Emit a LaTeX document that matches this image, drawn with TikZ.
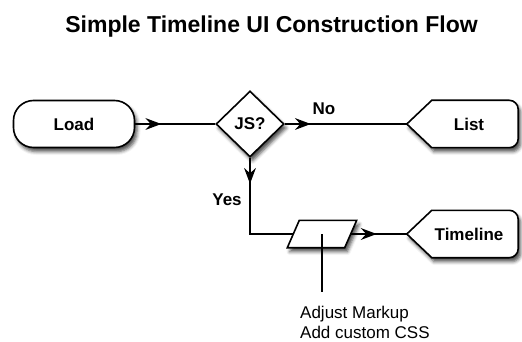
\documentclass[tikz,border=0pt]{standalone}
\usepackage{fontspec}
\setmainfont{Liberation Sans}
\usetikzlibrary{shapes.geometric,shadows.blur,decorations.markings}

\tikzset{
  outline/.style={draw=black, line width=1.6pt, fill=white, line join=miter,
    blur shadow={shadow xshift=2.5pt, shadow yshift=-4pt,
      shadow blur radius=3.5pt, shadow opacity=70}},
  labeltext/.style={font=\bfseries\fontsize{17}{20}\selectfont, text=black},
  slot/.style={labeltext, inner sep=0pt, minimum width=98pt, minimum height=47pt},
  % connector with a stealth-like head placed a little after its start
  flow/.style={draw=black, line width=1.6pt,
    postaction={decorate},
    decoration={markings,
      mark=at position 25pt with {\fill[black] (1pt,0pt) -- (-15pt,6pt)
        -- (-9.5pt,0pt) -- (-15pt,-6pt) -- cycle;}}},
  plain/.style={draw=black, line width=1.6pt},
}

\begin{document}
\begin{tikzpicture}[x=1pt, y=-1pt]
  \useasboundingbox (0,0) rectangle (522,342);

  % heading
  \node[anchor=base, font=\bfseries\fontsize{23}{27}\selectfont] (title)
    at (271.5,33) {Simple Timeline UI Construction Flow};

  % start terminal
  \node[outline, labeltext, rounded corners=20pt, minimum width=121pt,
        minimum height=47pt, inner sep=0pt] (load) at (74,124) {Load};

  % decision
  \node[outline, labeltext, diamond, minimum width=68pt, minimum height=66pt,
        inner sep=0pt] (js) at (250,124) {JS?};

  % display terminals (pointed left, rounded right)
  \node[slot] (list) at (469,124) {};
  \node[slot] (timeline) at (469,234) {};
  \foreach \n in {list,timeline}{
    \filldraw[outline]
      ([xshift=12pt]\n.south west) -- ([xshift=-13pt]\n.west)
      -- ([xshift=12pt]\n.north west) [rounded corners=9pt]
      -- (\n.north east) -- (\n.south east) [sharp corners] -- cycle;
  }
  \node[labeltext] at (list) {List};
  \node[labeltext] at (timeline) {Timeline};
  \coordinate (listtip) at ([xshift=-13pt]list.west);
  \coordinate (timelinetip) at ([xshift=-13pt]timeline.west);

  % manual step (parallelogram)
  \node[inner sep=0pt, minimum width=57pt, minimum height=27pt] (p) at (322,234) {};
  \filldraw[outline]
    ([xshift=6pt]p.north west) -- ([xshift=6pt]p.north east)
    -- ([xshift=-6pt]p.south east) -- ([xshift=-6pt]p.south west) -- cycle;

  % connectors
  \draw[flow] (load.east) -- (js.west);
  \draw[flow] (js.east) -- (listtip);
  \draw[flow] (js.south) |- (p.west);
  \draw[flow] (p.east) -- (timelinetip);

  % branch labels
  \node[labeltext, anchor=base] (no) at (324,115) {No};
  \node[labeltext, anchor=base] (yes) at (227,205) {Yes};

  % annotation
  \coordinate (noteend) at (322,292);
  \draw[plain] (p.center) -- (noteend);
  \node[anchor=north west, inner sep=0pt, align=left,
        font=\fontsize{17}{20}\selectfont] (note) at (300,305.5)
    {Adjust Markup\\Add custom CSS};
\end{tikzpicture}
\end{document}
